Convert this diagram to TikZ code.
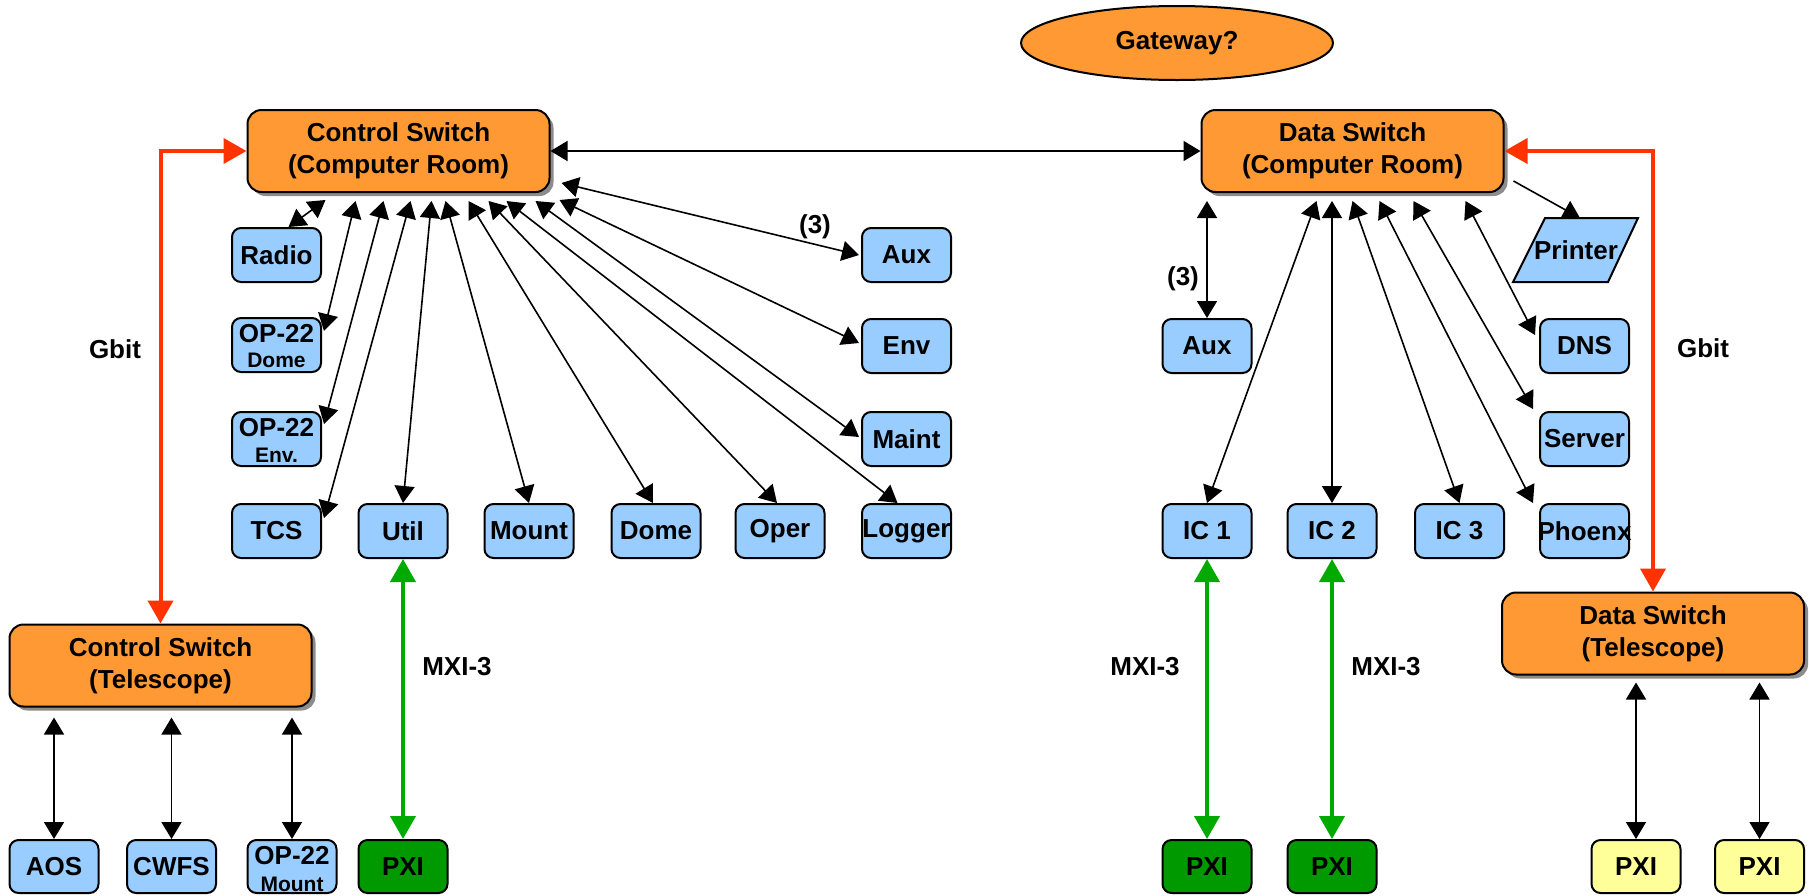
\documentclass[tikz,border=0pt]{standalone}
\usepackage{fontspec}
\setmainfont{Liberation Sans}
\usetikzlibrary{arrows.meta,shadows,calc,shapes.geometric}
\definecolor{orng}{HTML}{FF9933}
\definecolor{lblue}{HTML}{99CCFF}
\definecolor{dgreen}{HTML}{009900}
\definecolor{lyel}{HTML}{FFFF99}
\definecolor{redline}{HTML}{FF3300}
\definecolor{grline}{HTML}{00AA00}
\begin{document}
\begin{tikzpicture}[x=0.5pt,y=-0.5pt,
  swbox/.style={draw=black,line width=1pt,fill=orng,rounded corners=7pt,
    minimum width=151pt,minimum height=41pt,inner sep=0pt,align=center,
    font=\fontsize{13}{16}\selectfont\bfseries,
    drop shadow={shadow xshift=2pt,shadow yshift=-2pt,fill=black!45,opacity=1}},
  bx/.style={draw=black,line width=1pt,fill=lblue,rounded corners=4.5pt,
    minimum width=44.5pt,minimum height=27pt,inner sep=0pt,
    font=\fontsize{13}{15}\selectfont\bfseries},
  gbx/.style={bx,fill=dgreen},
  ybx/.style={bx,fill=lyel},
  lbl/.style={inner sep=0pt,font=\fontsize{13}{15}\selectfont\bfseries},
  sublbl/.style={inner sep=0pt,anchor=base,font=\fontsize{10.5}{12}\selectfont\bfseries},
  toplbl/.style={inner sep=0pt,anchor=base,font=\fontsize{13}{15}\selectfont\bfseries},
  blk/.style={line width=0.8pt,{Triangle[length=8.5pt,width=10pt]}-{Triangle[length=8.5pt,width=10pt]}},
  blk1/.style={line width=0.8pt,-{Triangle[length=8.5pt,width=10pt]}},
  redarr/.style={draw=redline,line width=2pt,{Triangle[length=11.5pt,width=12.5pt]}-{Triangle[length=11.5pt,width=12.5pt]},color=redline},
  grarr/.style={draw=grline,line width=2pt,{Triangle[length=11.5pt,width=12.5pt]}-{Triangle[length=11.5pt,width=12.5pt]},color=grline}
]
\useasboundingbox (0,0) rectangle (1809,895);

% switches
\node[swbox] (csc) at (398.5,151) {Control Switch\\(Computer Room)};
\node[swbox] (dsc) at (1352.5,151) {Data Switch\\(Computer Room)};
\node[swbox] (cst) at (160.5,665.5) {Control Switch\\(Telescope)};
\node[swbox] (dst) at (1653,633.5) {Data Switch\\(Telescope)};
\node[draw=black,line width=1pt,fill=orng,ellipse,minimum width=156pt,minimum height=37pt,inner sep=0pt,font=\fontsize{13}{15}\selectfont\bfseries] (gw) at (1177,43) {Gateway?};

% left blue boxes
\node[bx] (radio) at (276.5,255) {Radio};
\node[bx] (opd) at (276.5,345) {};
\node[toplbl] (opdA) at ($(opd.north)+(0,25)$) {OP-22};
\node[sublbl] (opdB) at ($(opd.north)+(0,50)$) {Dome};
\node[bx] (ope) at (276.5,439) {};
\node[toplbl] (opeA) at ($(ope.north)+(0,25)$) {OP-22};
\node[sublbl] (opeB) at ($(ope.north)+(0,51)$) {Env.};
\node[bx] (tcs) at (276.5,531) {TCS};
\node[bx] (util) at (403,531) {Util};
\node[bx] (mount) at (529,531) {Mount};
\node[bx] (dome) at (656,531) {Dome};
\node[bx] (oper) at (780,531) {Oper};
\node[bx] (logger) at (906.5,531) {\makebox[0pt]{Logger}};
\node[bx] (auxl) at (906.5,255) {Aux};
\node[bx] (env) at (906.5,346) {Env};
\node[bx] (maint) at (906.5,439) {Maint};

% right blue boxes
\node[bx] (auxr) at (1207,346) {Aux};
\node[bx] (ic1) at (1207,531) {IC 1};
\node[bx] (ic2) at (1332,531) {IC 2};
\node[bx] (ic3) at (1459.5,531) {IC 3};
\node[bx] (phx) at (1584.5,531) {\makebox[0pt]{Phoenx}};
\node[bx] (srv) at (1584.5,439) {Server};
\node[bx] (dns) at (1584.5,346) {DNS};
\draw[line width=1pt,fill=lblue] (1513,282) -- (1545,218) -- (1638,218) -- (1608,282) -- cycle;
\node[lbl] (pr) at (1576,250) {Printer};
\coordinate (prt) at (1580,218);

% bottom row
\node[bx,minimum height=26.5pt] (aos) at (54,866.5) {AOS};
\node[bx,minimum height=26.5pt] (cwfs) at (171.5,866.5) {CWFS};
\node[bx,minimum height=26.5pt] (opm) at (292,866.5) {};
\node[toplbl] (opmA) at ($(opm.north)+(0,25)$) {OP-22};
\node[sublbl] (opmB) at ($(opm.north)+(0,52)$) {Mount};
\node[gbx,minimum height=26.5pt] (pxa) at (403,866.5) {PXI};
\node[gbx,minimum height=26.5pt] (pxb) at (1207,866.5) {PXI};
\node[gbx,minimum height=26.5pt] (pxc) at (1332,866.5) {PXI};
\node[ybx,minimum height=26.5pt] (pxd) at (1636,866.5) {PXI};
\node[ybx,minimum height=26.5pt] (pxe) at (1759.5,866.5) {PXI};

% labels
\node[lbl] (gbl) at (115,349) {Gbit};
\node[lbl] (gbr) at (1703,348) {Gbit};
\node[lbl] (n3l) at (815,227) {(3)};
\node[lbl] (n3r) at (1183,279) {(3)};
\node[lbl] (mx1) at (457,667) {MXI-3};
\node[lbl] (mx2) at (1145,667) {MXI-3};
\node[lbl] (mx3) at (1386,667) {MXI-3};

% main links
\draw[blk] (csc.east) -- (dsc.west);
\draw[redarr] (cst.north) |- (csc.west);
\draw[redarr] (dsc.east) -| (dst.north);

% control switch fan
\draw[blk] ($(csc.south west)+(79,7)$) -- ($(radio.north)+(12,0)$);
\draw[blk] ($(csc.south west)+(109,8)$) -- ($(opd.north east)+(2,14)$);
\draw[blk] ($(csc.south west)+(137,8)$) -- ($(ope.north east)+(2,13)$);
\draw[blk] ($(csc.south west)+(164,8)$) -- ($(tcs.north east)+(2,15)$);
\draw[blk] ($(csc.south west)+(185,8)$) -- (util.north);
\draw[blk] ($(csc.south west)+(199,8)$) -- (mount.north);
\draw[blk] ($(csc.south west)+(222,8)$) -- ($(dome.north)+(-3,0)$);
\draw[blk] ($(csc.south west)+(242,8)$) -- ($(oper.north)+(-3,0)$);
\draw[blk] ($(csc.south west)+(260,8)$) -- ($(logger.north)+(-9,0)$);
\draw[blk] ($(csc.south west)+(289,8)$) -- ($(maint.west)+(-2,-2)$);
\draw[blk] ($(csc.south east)+(9,7)$) -- ($(env.west)+(-2,-3)$);
\draw[blk] ($(csc.south east)+(11,-10)$) -- ($(auxl.west)+(-2,0)$);

% data switch fan
\draw[blk] ($(auxr.north |- dsc.south)+(0,8)$) -- (auxr.north);
\draw[blk] ($(dsc.south west)+(116,8)$) -- (ic1.north);
\draw[blk] ($(ic2.north |- dsc.south)+(0,8)$) -- (ic2.north);
\draw[blk] ($(dsc.south west)+(152,8)$) -- (ic3.north);
\draw[blk] ($(dsc.south west)+(179,8)$) -- ($(phx.north west)+(-6,0)$);
\draw[blk] ($(dsc.south west)+(213,8)$) -- ($(srv.north west)+(-6,-2)$);
\draw[blk] ($(dsc.south west)+(265,8)$) -- ($(dns.north west)+(-4,17)$);
\draw[blk1] ($(dsc.south east)+(9,-12)$) -- (prt);

% telescope links
\draw[blk] ($(aos.north |- cst.south)+(0,10)$) -- (aos.north);
\draw[blk] ($(cwfs.north |- cst.south)+(0,10)$) -- (cwfs.north);
\draw[blk] ($(opm.north |- cst.south)+(0,10)$) -- (opm.north);
\draw[blk] ($(pxd.north |- dst.south)+(0,7)$) -- (pxd.north);
\draw[blk] ($(pxe.north |- dst.south)+(0,7)$) -- (pxe.north);

% MXI links
\draw[grarr] (util.south) -- (pxa.north);
\draw[grarr] (ic1.south) -- (pxb.north);
\draw[grarr] (ic2.south) -- (pxc.north);
\end{tikzpicture}
\end{document}
